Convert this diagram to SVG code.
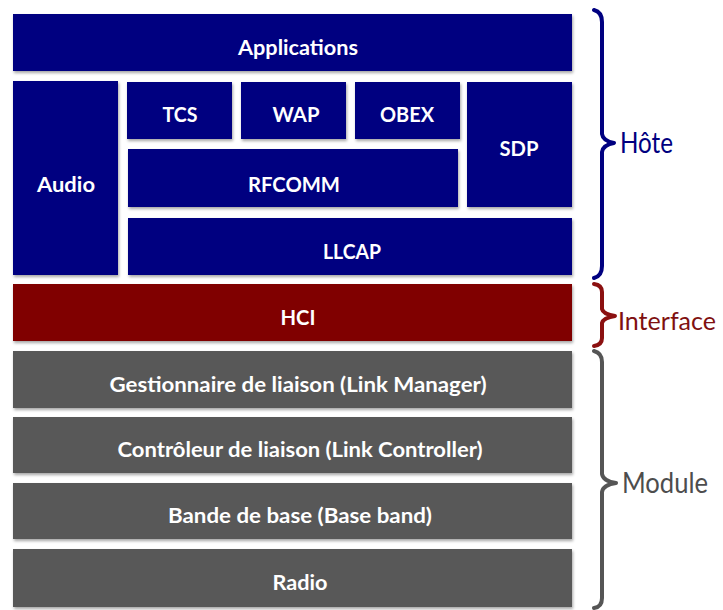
<svg xmlns="http://www.w3.org/2000/svg" width="723" height="610" viewBox="0 0 723 610">
  <defs>
    <filter id="shadow" x="-5%" y="-10%" width="110%" height="130%">
      <feDropShadow dx="1" dy="2" stdDeviation="1.5" flood-color="#000" flood-opacity="0.35"/>
    </filter>
  </defs>
  <style>
    .host { fill: #000080; filter: url(#shadow); }
    .iface { fill: #800000; filter: url(#shadow); }
    .mod { fill: #595959; filter: url(#shadow); }
    .lbl { font-family: Lato, "Open Sans", "Liberation Sans", sans-serif; font-weight: bold; font-size: 21px; fill: #ffffff; text-anchor: middle; dominant-baseline: central; }
    .brace { fill: none; stroke-width: 4; stroke-linecap: round; stroke-linejoin: round; }
    .side { font-family: Lato, "Open Sans", "Liberation Sans", sans-serif; font-size: 28px; }
    .side-narrow { font-size: 25px; }
  </style>
  <rect width="723" height="610" fill="#ffffff"/>

  <!-- Host stack -->
  <g id="applications"><rect class="host" x="13" y="14" width="559" height="57"/><text class="lbl" x="298" y="46" textLength="120" lengthAdjust="spacingAndGlyphs">Applications</text></g>
  <g id="audio"><rect class="host" x="13" y="81" width="105" height="194"/><text class="lbl" x="66" y="183" textLength="58" lengthAdjust="spacingAndGlyphs">Audio</text></g>
  <g id="tcs"><rect class="host" x="127" y="82" width="105" height="57"/><text class="lbl" x="180" y="113" textLength="35" lengthAdjust="spacingAndGlyphs">TCS</text></g>
  <g id="wap"><rect class="host" x="241" y="82" width="105" height="57"/><text class="lbl" x="296" y="113" textLength="47" lengthAdjust="spacingAndGlyphs">WAP</text></g>
  <g id="obex"><rect class="host" x="355" y="82" width="105" height="57"/><text class="lbl" x="407" y="113" textLength="54" lengthAdjust="spacingAndGlyphs">OBEX</text></g>
  <g id="sdp"><rect class="host" x="467" y="82" width="105" height="125"/><text class="lbl" x="519" y="147" textLength="39" lengthAdjust="spacingAndGlyphs">SDP</text></g>
  <g id="rfcomm"><rect class="host" x="128" y="149" width="330" height="58"/><text class="lbl" x="294" y="183" textLength="92" lengthAdjust="spacingAndGlyphs">RFCOMM</text></g>
  <g id="llcap"><rect class="host" x="128" y="218" width="444" height="57"/><text class="lbl" x="352" y="250" textLength="58" lengthAdjust="spacingAndGlyphs">LLCAP</text></g>

  <!-- Interface -->
  <g id="hci"><rect class="iface" x="13" y="284" width="559" height="57"/><text class="lbl" x="298" y="316" textLength="35" lengthAdjust="spacingAndGlyphs">HCI</text></g>

  <!-- Module stack -->
  <g id="link-manager"><rect class="mod" x="13" y="351" width="559" height="57"/><text class="lbl" x="298" y="383" textLength="377" lengthAdjust="spacingAndGlyphs">Gestionnaire de liaison (Link Manager)</text></g>
  <g id="link-controller"><rect class="mod" x="13" y="417" width="559" height="56"/><text class="lbl" x="300" y="448" textLength="365" lengthAdjust="spacingAndGlyphs">Contrôleur de liaison (Link Controller)</text></g>
  <g id="baseband"><rect class="mod" x="13" y="483" width="559" height="56"/><text class="lbl" x="300" y="514" textLength="264" lengthAdjust="spacingAndGlyphs">Bande de base (Base band)</text></g>
  <g id="radio"><rect class="mod" x="13" y="549" width="559" height="58"/><text class="lbl" x="300" y="581" textLength="55" lengthAdjust="spacingAndGlyphs">Radio</text></g>

  <!-- Braces and layer names -->
  <g id="braces">
    <path class="brace" stroke="#000080" d="M 594 10 Q 602 12 602 22 L 602 134 Q 603 141 614 143 Q 603 145 602 152 L 602 266 Q 602 276 594 278"/>
    <path class="brace" stroke="#8b1010" d="M 594 284 Q 602 285 602 292 L 602 309 Q 603 314 615 316 Q 603 318 602 323 L 602 338 Q 602 345 594 346"/>
    <path class="brace" stroke="#555555" d="M 594 351 Q 602 353 602 362 L 602 474 Q 603 481 616 483 Q 603 485 602 492 L 602 598 Q 602 607 594 608"/>
  </g>
  <g id="host-label"><text class="side" x="620" y="153" fill="#000080" textLength="53" lengthAdjust="spacingAndGlyphs">Hôte</text></g>
  <g id="interface-label"><text class="side side-narrow" x="618" y="330" fill="#7f1010" textLength="98" lengthAdjust="spacingAndGlyphs">Interface</text></g>
  <g id="module-label"><text class="side" x="622" y="493" fill="#4d4d4d" textLength="86" lengthAdjust="spacingAndGlyphs">Module</text></g>
</svg>
